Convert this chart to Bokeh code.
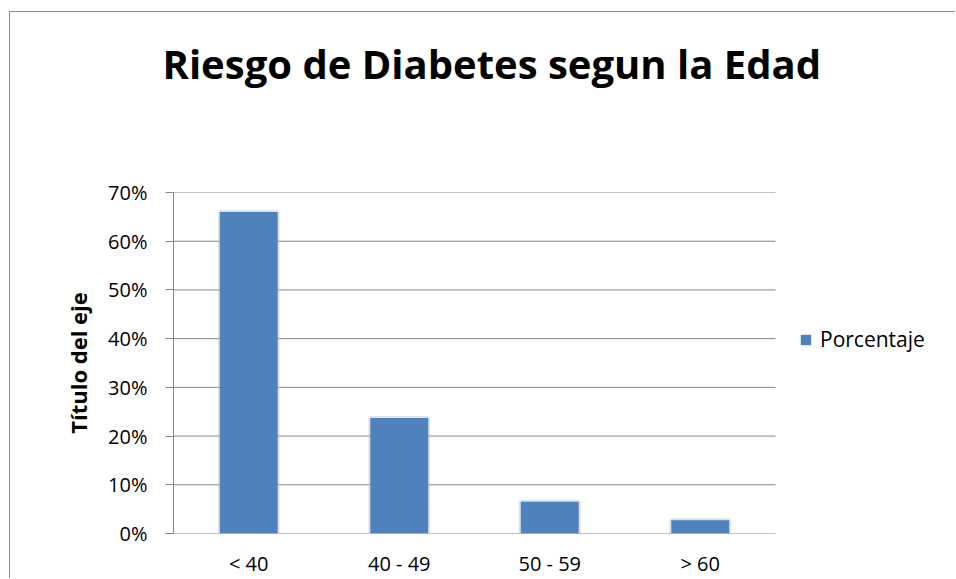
from bokeh.plotting import figure
from bokeh.models import (Range1d, FixedTicker, NumeralTickFormatter,
                          Legend, LegendItem, ColumnDataSource)
from bokeh.embed import file_html
from bokeh.resources import INLINE

categories = ["< 40", "40 - 49", "50 - 59", "> 60"]
porcentaje = [0.66, 0.237, 0.065, 0.027]
y_ticks = [0.0, 0.1, 0.2, 0.3, 0.4, 0.5, 0.6, 0.7]
title_text = "Riesgo de Diabetes segun la Edad"
y_title = "Título del eje"
series_name = "Porcentaje"

n = len(categories)
xpos = list(range(n))
src = ColumnDataSource(dict(x=xpos, val=porcentaje))
grid_src = ColumnDataSource(dict(y=y_ticks,
                                 x0=[-0.5] * len(y_ticks),
                                 x1=[n - 0.5] * len(y_ticks)))

FONT = "Open Sans"
GRID = "#868686"

# layout (pixels): canvas 946 wide, frame starts at 163; the bar area is 602 px wide
W, H = 946, 567
LEFT, PLOT_W = 163, 602
x_end = -0.5 + n * (W - LEFT) / PLOT_W

p = figure(x_range=Range1d(-0.5, x_end), y_range=Range1d(0, 0.7),
           width=W, height=H, output_backend="svg", toolbar_location=None,
           min_border_left=LEFT, min_border_right=0, min_border_top=180,
           min_border_bottom=46, title=title_text,
           margin=(11, 0, 0, 9),
           styles={"border-left": "1px solid #8c8c8c",
                   "border-top": "1px solid #8c8c8c"})
p.background_fill_color = "white"
p.border_fill_color = "white"
p.outline_line_color = None

p.title.text_font = FONT
p.title.text_font_size = "40px"
p.title.text_font_style = "bold"
p.title.text_color = "black"
p.title.align = "left"
p.title.offset = -11
p.title.standoff = 0
p.title.padding = dict(left=0, right=0, top=0, bottom=102)

# horizontal gridlines over the bar area
p.segment(x0="x0", x1="x1", y0="y", y1="y", source=grid_src,
          line_color=GRID, line_width=1)

# bars with light glow
p.vbar(x="x", top="val", width=0.385, source=src, fill_alpha=0,
       line_color="#bfbfbf", line_width=4, line_alpha=0.45)
bars = p.vbar(x="x", top="val", width=0.385, source=src,
              fill_color="#4F81BD", line_color=None)

p.xgrid.grid_line_color = None
p.ygrid.grid_line_color = None

p.yaxis.ticker = FixedTicker(ticks=y_ticks)
p.yaxis.formatter = NumeralTickFormatter(format="0%")
p.yaxis.axis_line_color = GRID
p.yaxis.major_tick_line_color = GRID
p.yaxis.major_tick_out = 8
p.yaxis.major_tick_in = 0
p.yaxis.minor_tick_line_color = None
p.yaxis.major_label_standoff = 18
p.yaxis.major_label_text_font = FONT
p.yaxis.major_label_text_font_size = "20px"
p.yaxis.major_label_text_color = "black"
p.yaxis.axis_label = y_title
p.yaxis.axis_label_text_font = FONT
p.yaxis.axis_label_text_font_size = "22px"
p.yaxis.axis_label_text_font_style = "bold"
p.yaxis.axis_label_text_color = "black"
p.yaxis.axis_label_standoff = 12

p.xaxis.ticker = FixedTicker(ticks=xpos)
p.xaxis.major_label_overrides = {i: c for i, c in zip(xpos, categories)}
p.xaxis.axis_line_color = None
p.xaxis.major_tick_line_color = None
p.xaxis.major_tick_out = 0
p.xaxis.major_tick_in = 0
p.xaxis.minor_tick_line_color = None
p.xaxis.major_label_standoff = 16
p.xaxis.major_label_text_font = FONT
p.xaxis.major_label_text_font_size = "20px"
p.xaxis.major_label_text_color = "black"

legend = Legend(items=[LegendItem(label=series_name, renderers=[bars])],
                location=(626, 180), orientation="vertical",
                border_line_color=None, background_fill_alpha=0,
                padding=0, margin=0, spacing=0,
                glyph_width=13, glyph_height=13, label_standoff=8,
                label_text_font=FONT, label_text_font_size="21px",
                label_text_color="black")
p.add_layout(legend)

open("out.html", "w").write(file_html(p, INLINE))
